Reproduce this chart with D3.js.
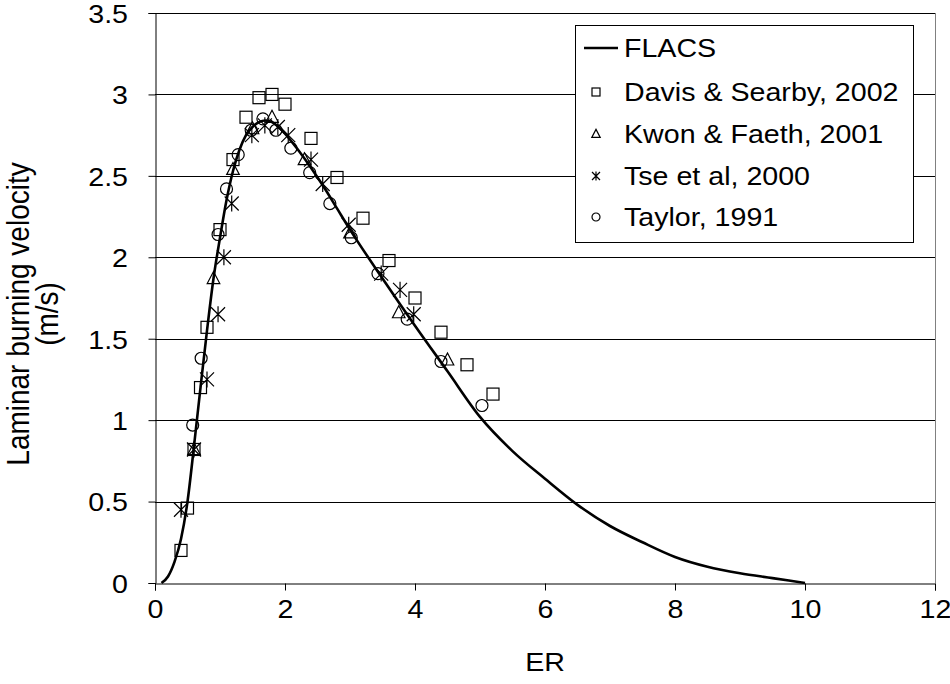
<!DOCTYPE html>
<html>
<head>
<meta charset="utf-8">
<script src="https://cdn.jsdelivr.net/npm/d3@7"></script>
<style>
  html, body { margin: 0; padding: 0; background: #fff; }
  svg { display: block; }
  text { font-family: "Liberation Sans", Arial, sans-serif; fill: #000; }
</style>
</head>
<body>
<svg id="chart" width="950" height="684"></svg>
<script>
// FLACS model curve: equivalence ratio vs laminar burning velocity (m/s)
const flacsER = [0.1, 0.2, 0.3, 0.4, 0.5, 0.6, 0.7, 0.8, 0.9, 1.0, 1.1, 1.2, 1.3, 1.4, 1.5, 1.6, 1.7, 1.8, 1.9, 2.0, 2.2, 2.4, 2.6, 2.8, 3.0, 3.5, 4.0, 4.5, 5.0, 5.5, 6.0, 6.5, 7.0, 7.5, 8.0, 8.5, 9.0, 9.5, 10.0];
const flacsSL = [0.0, 0.04, 0.13, 0.27, 0.5, 0.84, 1.2, 1.55, 1.87, 2.12, 2.35, 2.53, 2.66, 2.75, 2.8, 2.83, 2.84, 2.83, 2.8, 2.76, 2.66, 2.55, 2.43, 2.3, 2.17, 1.87, 1.58, 1.3, 1.02, 0.81, 0.64, 0.48, 0.35, 0.25, 0.16, 0.1, 0.06, 0.03, 0.0];

// Experimental data
const davisER = [0.4, 0.5, 0.6, 0.7, 0.8, 1.0, 1.2, 1.4, 1.6, 1.8, 2.0, 2.4, 2.8, 3.2, 3.6, 4.0, 4.4, 4.8, 5.2];
const davisSL = [0.2, 0.46, 0.82, 1.2, 1.57, 2.17, 2.6, 2.86, 2.98, 3.0, 2.94, 2.73, 2.49, 2.24, 1.98, 1.75, 1.54, 1.34, 1.16];

const kwonER = [0.6, 0.9, 1.2, 1.5, 1.8, 2.3, 3.0, 3.75, 4.5];
const kwonSL = [0.82, 1.87, 2.54, 2.79, 2.86, 2.6, 2.15, 1.66, 1.37];

const tseER = [0.4, 0.6, 0.8, 0.97, 1.06, 1.18, 1.49, 1.69, 1.89, 2.05, 2.4, 2.58, 2.98, 3.48, 3.77, 3.98];
const tseSL = [0.45, 0.82, 1.25, 1.65, 2.0, 2.33, 2.75, 2.81, 2.8, 2.75, 2.6, 2.45, 2.2, 1.9, 1.8, 1.65];

const taylorER = [0.58, 0.71, 0.97, 1.1, 1.28, 1.48, 1.66, 1.86, 2.09, 2.38, 2.69, 3.02, 3.43, 3.88, 4.4, 5.03];
const taylorSL = [0.97, 1.38, 2.14, 2.42, 2.63, 2.78, 2.85, 2.78, 2.67, 2.52, 2.33, 2.12, 1.9, 1.62, 1.36, 1.09];

const xTicks = [0, 2, 4, 6, 8, 10, 12];
const yTicks = [0, 0.5, 1, 1.5, 2, 2.5, 3, 3.5];
const legendLabels = ["FLACS", "Davis & Searby, 2002", "Kwon & Faeth, 2001", "Tse et al, 2000", "Taylor, 1991"];

// Text is drawn slightly widened horizontally
const SX = 1.1;

const svg = d3.select("#chart");
const m = { left: 155, right: 935, top: 13, bottom: 583 };

const x = d3.scaleLinear().domain([0, 12]).range([m.left, m.right]);
const y = d3.scaleLinear().domain([0, 3.5]).range([m.bottom, m.top]);

// Horizontal gridlines
svg.append("g").selectAll("line").data(yTicks.filter(d => d > 0)).join("line")
  .attr("x1", m.left).attr("x2", m.right)
  .attr("y1", d => Math.round(y(d)) + 0.5).attr("y2", d => Math.round(y(d)) + 0.5)
  .attr("stroke", "#000").attr("stroke-width", 1);

// Plot frame on the right side
svg.append("line")
  .attr("x1", m.right + 0.5).attr("x2", m.right + 0.5)
  .attr("y1", m.top).attr("y2", m.bottom)
  .attr("stroke", "#808080");

// Axes
const yAxis = d3.axisLeft(y).tickValues(yTicks).tickSize(7).tickPadding(18).tickFormat(d3.format("~g"));
const xAxis = d3.axisBottom(x).tickValues(xTicks).tickSize(7).tickPadding(9).tickFormat(d3.format("~g"));

const gy = svg.append("g").attr("transform", `translate(${m.left + 0.5},0)`).call(yAxis);
const gx = svg.append("g").attr("transform", `translate(0,${m.bottom + 0.5})`).call(xAxis);
[gx, gy].forEach(g => {
  g.select(".domain").attr("stroke", "#000");
  g.selectAll(".tick line").attr("stroke", "#000");
  g.selectAll(".tick text").attr("font-size", 26).attr("font-family", "'Liberation Sans', Arial, sans-serif")
    .attr("fill", "#000").attr("transform", `scale(${SX},1)`);
});
gy.selectAll(".tick text").attr("dy", "0.36em");

// Axis titles
svg.append("text").attr("transform", `translate(545,671) scale(${SX},1)`).attr("text-anchor", "middle")
  .attr("font-size", 26).text("ER");
const yt = svg.append("text").attr("transform", `translate(29,314) scale(${SX},1) rotate(-90)`)
  .attr("text-anchor", "middle").attr("font-size", 28);
yt.append("tspan").attr("x", 0).attr("dy", 0).text("Laminar burning velocity");
yt.append("tspan").attr("x", 0).attr("dy", 26).text("(m/s)");

// Marker drawing helpers
function drawMarker(g, kind, s) {
  const h = s / 2;
  if (kind === "square") {
    g.append("rect").attr("x", -h).attr("y", -h).attr("width", s).attr("height", s)
      .attr("fill", "none").attr("stroke", "#000").attr("stroke-width", 1.2);
  } else if (kind === "circle") {
    g.append("circle").attr("r", h).attr("fill", "none").attr("stroke", "#000").attr("stroke-width", 1.2);
  } else if (kind === "triangle") {
    g.append("path").attr("d", `M0,${-h * 1.15}L${h * 1.05},${h * 0.85}L${-h * 1.05},${h * 0.85}Z`)
      .attr("fill", "none").attr("stroke", "#000").attr("stroke-width", 1.2);
  } else if (kind === "star") {
    g.append("path").attr("d", `M${-h},${-h}L${h},${h}M${h},${-h}L${-h},${h}M0,${-h * 1.15}L0,${h * 1.15}`)
      .attr("fill", "none").attr("stroke", "#000").attr("stroke-width", 1.2);
  }
}

const series = [
  { er: davisER, sl: davisSL, kind: "square", size: 12 },
  { er: kwonER, sl: kwonSL, kind: "triangle", size: 12 },
  { er: tseER, sl: tseSL, kind: "star", size: 14 },
  { er: taylorER, sl: taylorSL, kind: "circle", size: 12 }
];

series.forEach(s => {
  const pts = s.er.map((e, i) => [e, s.sl[i]]);
  svg.append("g").selectAll("g").data(pts).join("g")
    .attr("transform", d => `translate(${x(d[0])},${y(d[1])})`)
    .each(function () { drawMarker(d3.select(this), s.kind, s.size); });
});

// FLACS curve
const flacs = flacsER.map((e, i) => [e, flacsSL[i]]);
svg.append("path").datum(flacs)
  .attr("d", d3.line().x(d => x(d[0])).y(d => y(d[1])).curve(d3.curveMonotoneX))
  .attr("fill", "none").attr("stroke", "#000").attr("stroke-width", 2.6);

// Legend
const lg = svg.append("g");
lg.append("rect").attr("x", 575.5).attr("y", 25.5).attr("width", 338).attr("height", 217)
  .attr("fill", "#fff").attr("stroke", "#000").attr("stroke-width", 1);
const rowY = [48, 92, 134, 176, 217];
legendLabels.forEach((lab, i) => {
  const r = lg.append("g").attr("transform", `translate(0,${rowY[i]})`);
  if (i === 0) {
    r.append("line").attr("x1", 584).attr("x2", 618).attr("y1", 0).attr("y2", 0)
      .attr("stroke", "#000").attr("stroke-width", 2.6);
  } else {
    const mk = r.append("g").attr("transform", "translate(596,0)");
    drawMarker(mk, series[i - 1].kind, 8);
  }
  r.append("text").attr("transform", `translate(624,0) scale(${SX},1)`).attr("dy", "0.36em")
    .attr("font-size", 26).text(lab);
});
</script>
</body>
</html>
